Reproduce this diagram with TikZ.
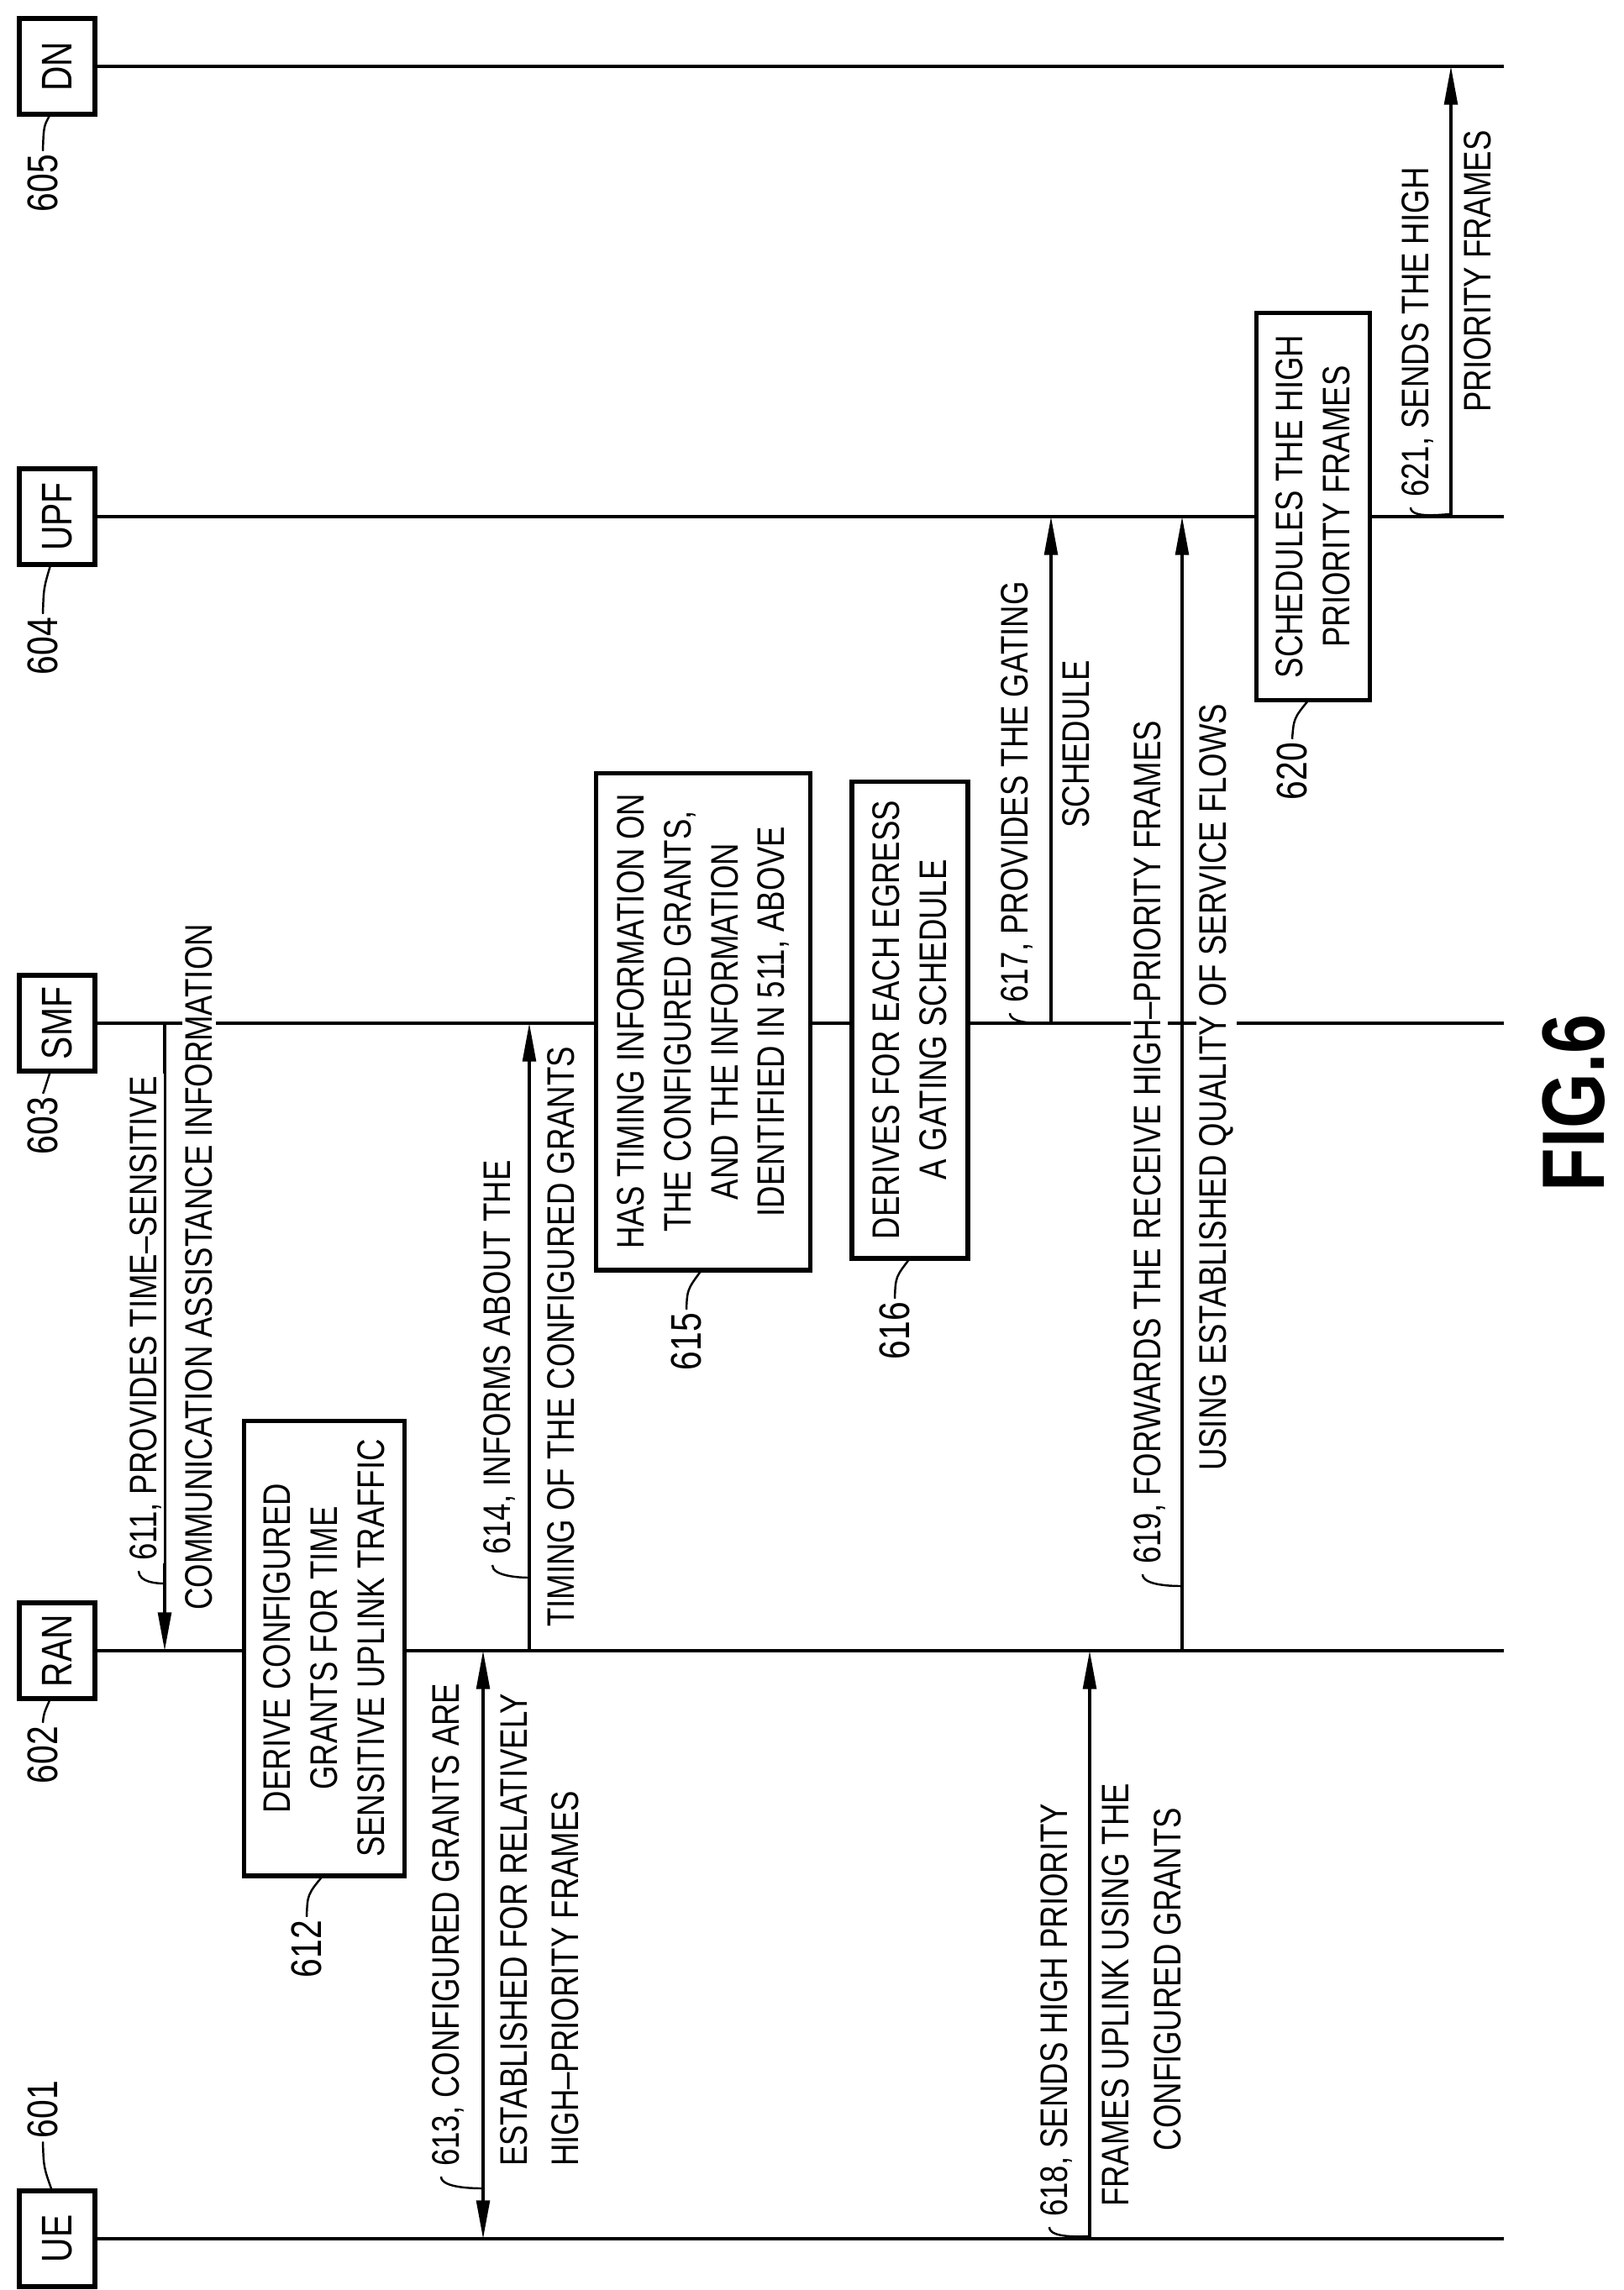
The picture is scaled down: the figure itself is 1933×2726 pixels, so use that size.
\documentclass[tikz,border=0pt]{standalone}
\usepackage{fontspec}
\setmainfont{Liberation Sans}[FakeStretch=0.8]
\usetikzlibrary{arrows.meta}
\begin{document}
\begin{tikzpicture}[x=0.01cm,y=-0.01cm,
  txt/.style={rotate=90,font=\fontsize{13pt}{16pt}\selectfont,inner sep=1pt,fill=white},
  lbl/.style={rotate=90,font=\fontsize{14.5pt}{16pt}\selectfont,inner sep=1pt},
  ent/.style={rotate=90,draw,line width=1.6pt,minimum width=1.14cm,minimum height=0.9cm,inner sep=0pt,fill=white,font=\fontsize{14.5pt}{16pt}\selectfont},
  stepbox/.style={rotate=90,draw,line width=1.6pt,fill=white,align=center,inner sep=2pt,font=\fontsize{13pt}{15.9pt}\selectfont},
  life/.style={line width=0.9pt},
  msg/.style={line width=0.9pt,-{Triangle[length=13pt,width=4.5pt]}},
  lead/.style={line width=0.7pt}]
\useasboundingbox (0,0) rectangle (1933,2726);
% entities
\node[ent] (dn) at (68,79) {DN};
\node[ent] (upf) at (68,615) {UPF};
\node[ent] (smf) at (68,1218) {SMF};
\node[ent] (ran) at (68,1965) {RAN};
\node[ent] (ue) at (68,2665) {UE};
\coordinate (dnE) at (1790,79);
\coordinate (upfE) at (1790,615);
\coordinate (smfE) at (1790,1218);
\coordinate (ranE) at (1790,1965);
\coordinate (ueE) at (1790,2665);
\draw[life] (dn.south) -- (dnE);
\draw[life] (upf.south) -- (upfE);
\draw[life] (smf.south) -- (smfE);
\draw[life] (ran.south) -- (ranE);
\draw[life] (ue.south) -- (ueE);
% entity labels
\node[lbl] (l605) at (51,218) {605};
\node[lbl] (l604) at (51,769) {604};
\node[lbl] (l603) at (51,1340) {603};
\node[lbl] (l602) at (51,2089) {602};
\node[lbl] (l601) at (51,2511) {601};
\draw[lead] (l605.east) .. controls (52,150) .. (60,136);
\draw[lead] (l604.east) .. controls (52,700) .. (60,673);
\draw[lead] (l603.east) .. controls (52,1300) .. (60,1275);
\draw[lead] (l602.east) .. controls (52,2040) .. (60,2022);
\draw[lead] (l601.west) .. controls (52,2580) .. (62,2608);
% message coordinates
\coordinate (a611s) at (196,1218); \coordinate (a611e) at (196,1965);
\coordinate (a613s) at (575,1965); \coordinate (a613e) at (575,2665);
\coordinate (a614s) at (630,1965); \coordinate (a614e) at (630,1218);
\coordinate (a617s) at (1251,1218); \coordinate (a617e) at (1251,615);
\coordinate (a618s) at (1297,2665); \coordinate (a618e) at (1297,1965);
\coordinate (a619s) at (1407,1965); \coordinate (a619e) at (1407,615);
\coordinate (a621s) at (1727,615); \coordinate (a621e) at (1727,79);
% boxes
\node[stepbox,minimum width=5.41cm,minimum height=1.91cm] (b612) at (386,1962)
  {DERIVE CONFIGURED\\GRANTS FOR TIME\\SENSITIVE UPLINK TRAFFIC};
\node[stepbox,minimum width=5.91cm,minimum height=2.55cm] (b615) at (837,1216)
  {HAS TIMING INFORMATION ON\\THE CONFIGURED GRANTS,\\AND THE INFORMATION\\IDENTIFIED IN 511, ABOVE};
\node[stepbox,minimum width=5.67cm,minimum height=1.38cm] (b616) at (1083,1214)
  {DERIVES FOR EACH EGRESS\\A GATING SCHEDULE};
\node[stepbox,minimum width=4.61cm,minimum height=1.35cm] (b620) at (1563,603)
  {SCHEDULES THE HIGH\\PRIORITY FRAMES};
\node[lbl] (l612) at (365,2320) {612};
\node[lbl] (l615) at (817,1597) {615};
\node[lbl] (l616) at (1065,1584) {616};
\node[lbl] (l620) at (1538,918) {620};
\draw[lead] (l612.east) .. controls (366,2255) .. (385,2232);
\draw[lead] (l615.east) .. controls (818,1535) .. (835,1512);
\draw[lead] (l616.east) .. controls (1066,1520) .. (1083,1498);
\draw[lead] (l620.east) .. controls (1540,855) .. (1557,834);
% arrows
\draw[msg] (a611s) -- (a611e);
\draw[msg,{Triangle[length=13pt,width=4.5pt]}-{Triangle[length=13pt,width=4.5pt]}] (a613s) -- (a613e);
\draw[msg] (a614s) -- (a614e);
\draw[msg] (a617s) -- (a617e);
\draw[msg] (a618s) -- (a618e);
\draw[msg] (a619s) -- (a619e);
\draw[msg] (a621s) -- (a621e);
% message texts
\node[txt,anchor=west] (t611a) at (173,1862) {611, PROVIDES TIME–SENSITIVE};
\node[txt,anchor=west] (t611b) at (237,1921) {COMMUNICATION ASSISTANCE INFORMATION};
\node[txt,anchor=west] (t613a) at (533,2583) {613, CONFIGURED GRANTS ARE};
\node[txt,anchor=west] (t613b) at (612,2583) {ESTABLISHED FOR RELATIVELY};
\node[txt,anchor=west] (t613c) at (673,2583) {HIGH–PRIORITY FRAMES};
\node[txt,anchor=west] (t614a) at (594,1855) {614, INFORMS ABOUT THE};
\node[txt,anchor=west] (t614b) at (668,1941) {TIMING OF THE CONFIGURED GRANTS};
\node[txt,anchor=west] (t617a) at (1210,1198) {617, PROVIDES THE GATING};
\node[txt] (t617b) at (1281,886) {SCHEDULE};
\node[txt,anchor=west] (t618a) at (1257,2643) {618, SENDS HIGH PRIORITY};
\node[txt,anchor=west] (t618b) at (1328,2631) {FRAMES UPLINK USING THE};
\node[txt] (t618c) at (1390,2356) {CONFIGURED GRANTS};
\node[txt,anchor=west] (t619a) at (1368,1866) {619, FORWARDS THE RECEIVE HIGH–PRIORITY FRAMES};
\node[txt,anchor=west] (t619b) at (1448,1755) {USING ESTABLISHED QUALITY OF SERVICE FLOWS};
\node[txt,anchor=west] (t621a) at (1687,596) {621, SENDS THE HIGH};
\node[txt] (t621b) at (1759,323) {PRIORITY FRAMES};
% leader ticks
\draw[lead] (t611a.west) ++(-8,8) .. controls +(0,14) and +(-8,0) .. (196,1885);
\draw[lead] (t613a.west) ++(-8,8) .. controls +(0,14) and +(-8,0) .. (575,2605);
\draw[lead] (t614a.west) ++(-8,8) .. controls +(0,14) and +(-8,0) .. (630,1878);
\draw[lead] (t617a.west) ++(-8,8) .. controls +(0,14) and +(-8,0) .. (1251,1218);
\draw[lead] (t618a.west) ++(-8,8) .. controls +(0,14) and +(-8,0) .. (1297,2662);
\draw[lead] (t619a.west) ++(-8,8) .. controls +(0,14) and +(-8,0) .. (1407,1888);
\draw[lead] (t621a.west) ++(-8,8) .. controls +(0,14) and +(-8,0) .. (1727,612);
% figure title
\node[rotate=90,font=\fontsize{30pt}{32pt}\bfseries] (fig) at (1873,1313) {FIG.6};
\end{tikzpicture}
\end{document}
